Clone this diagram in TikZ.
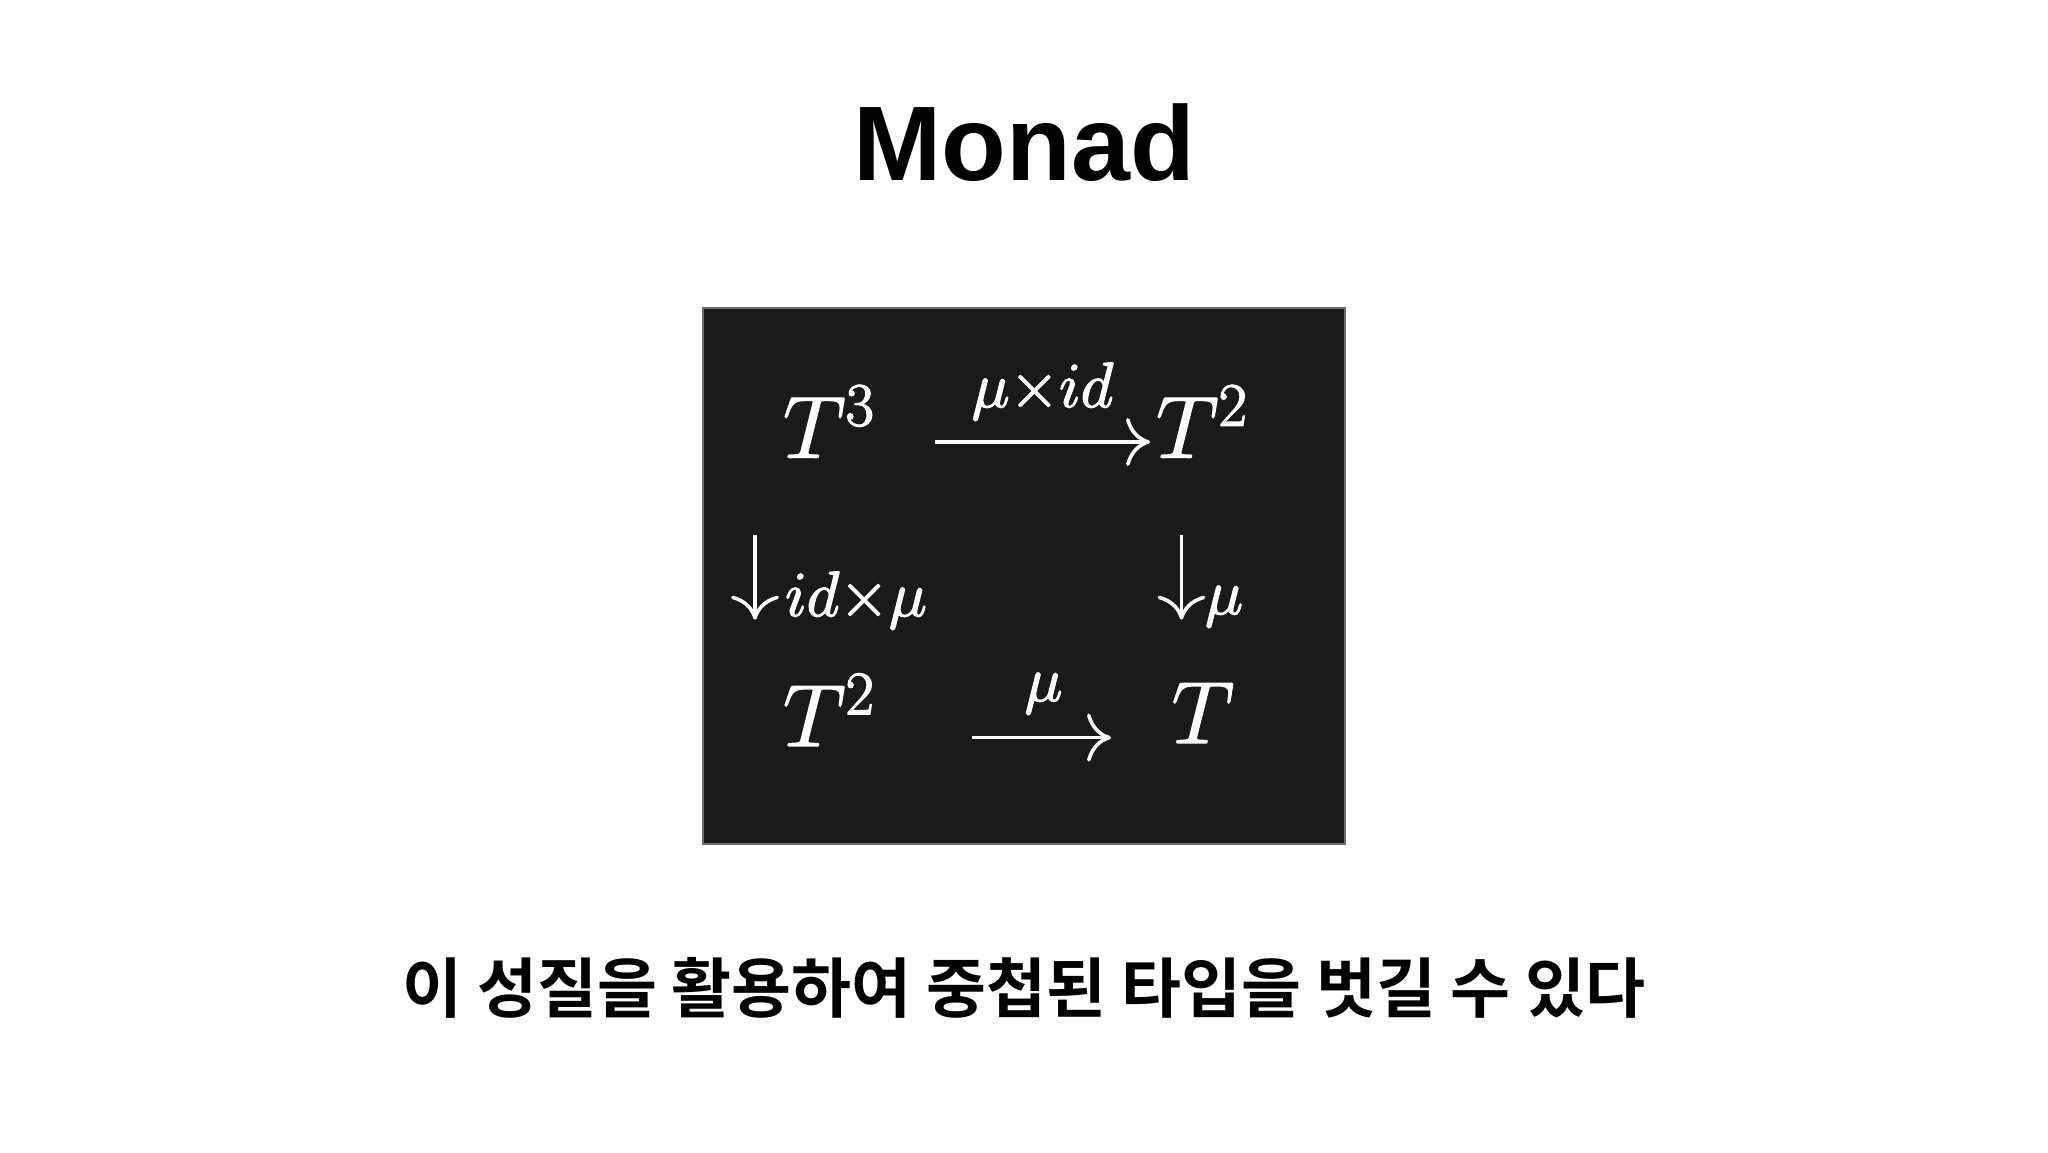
\RequirePackage{fix-cm}
\documentclass[tikz,border=0pt]{standalone}
\usepackage{fontspec}
\newfontfamily\titlefont{Liberation Sans}
\newfontfamily\krfont{Noto Sans CJK KR Bold}
\usetikzlibrary{arrows.meta}
\definecolor{panelbg}{RGB}{26,26,26}
\definecolor{paneledge}{RGB}{110,110,110}
\newcommand\heavytext[1]{\special{pdf:literal direct 2 Tr 0.7 w}#1\special{pdf:literal direct 0 Tr}}
\begin{document}
\begin{tikzpicture}[x=0.5pt,y=-0.5pt,
  panel/.style={draw=paneledge, line width=0.6pt, fill=panelbg, minimum width=321pt, minimum height=268pt, inner sep=0pt},
  titlestyle/.style={anchor=base, inner sep=0pt, font=\titlefont\bfseries\fontsize{53}{60}\selectfont},
  capstyle/.style={anchor=base, inner sep=0pt, font=\krfont\fontsize{32.6}{38}\selectfont},
  mathbig/.style={text=white, inner sep=0pt, anchor=base, font=\fontsize{44}{50}\selectfont},
  mathlbl/.style={text=white, inner sep=0pt, anchor=base, font=\fontsize{32}{38}\selectfont},
  cmarrow/.style={draw=white, line width=1.8pt, -{Computer Modern Rightarrow[length=12pt,width=24pt]}}
]
\useasboundingbox (0,0) rectangle (2048,1152);
\fill[white] (0,0) rectangle (2048,1152);

\node[titlestyle] (title) at (1024,180) {Monad};

\node[panel] (panel) at (1024,576) {};

\node[mathbig] (t3) at (829,457.6) {\heavytext{$T^3$}};
\node[mathbig] (t2a) at (1202,457.6) {\heavytext{$T^2$}};
\node[mathbig] (t2b) at (829,746) {\heavytext{$T^2$}};
\node[mathbig] (t1) at (1203,743) {\heavytext{$T$}};

\node[mathlbl] (l1) at (1042.5,407) {\heavytext{$\mu{\times}id$}};
\node[mathlbl] (l2) at (856,616) {\heavytext{$id{\times}\mu$}};
\node[mathlbl] (l3) at (1224,614) {\heavytext{$\mu$}};
\node[mathlbl] (l4) at (1043.5,701) {\heavytext{$\mu$}};

\coordinate (a1s) at (935,442);
\coordinate (a1e) at (1150,442);
\coordinate (a2s) at (755,535);
\coordinate (a2e) at (755,619.6);
\coordinate (a3s) at (1181.5,535);
\coordinate (a3e) at (1181.5,619.6);
\coordinate (a4s) at (972,737.6);
\coordinate (a4e) at (1111,737.6);

\draw[cmarrow] (a1s) -- (a1e);
\draw[cmarrow] (a2s) -- (a2e);
\draw[cmarrow] (a3s) -- (a3e);
\draw[cmarrow] (a4s) -- (a4e);

\node[capstyle] (caption) at (1024,1012) {이 성질을 활용하여 중첩된 타입을 벗길 수 있다};
\end{tikzpicture}
\end{document}
